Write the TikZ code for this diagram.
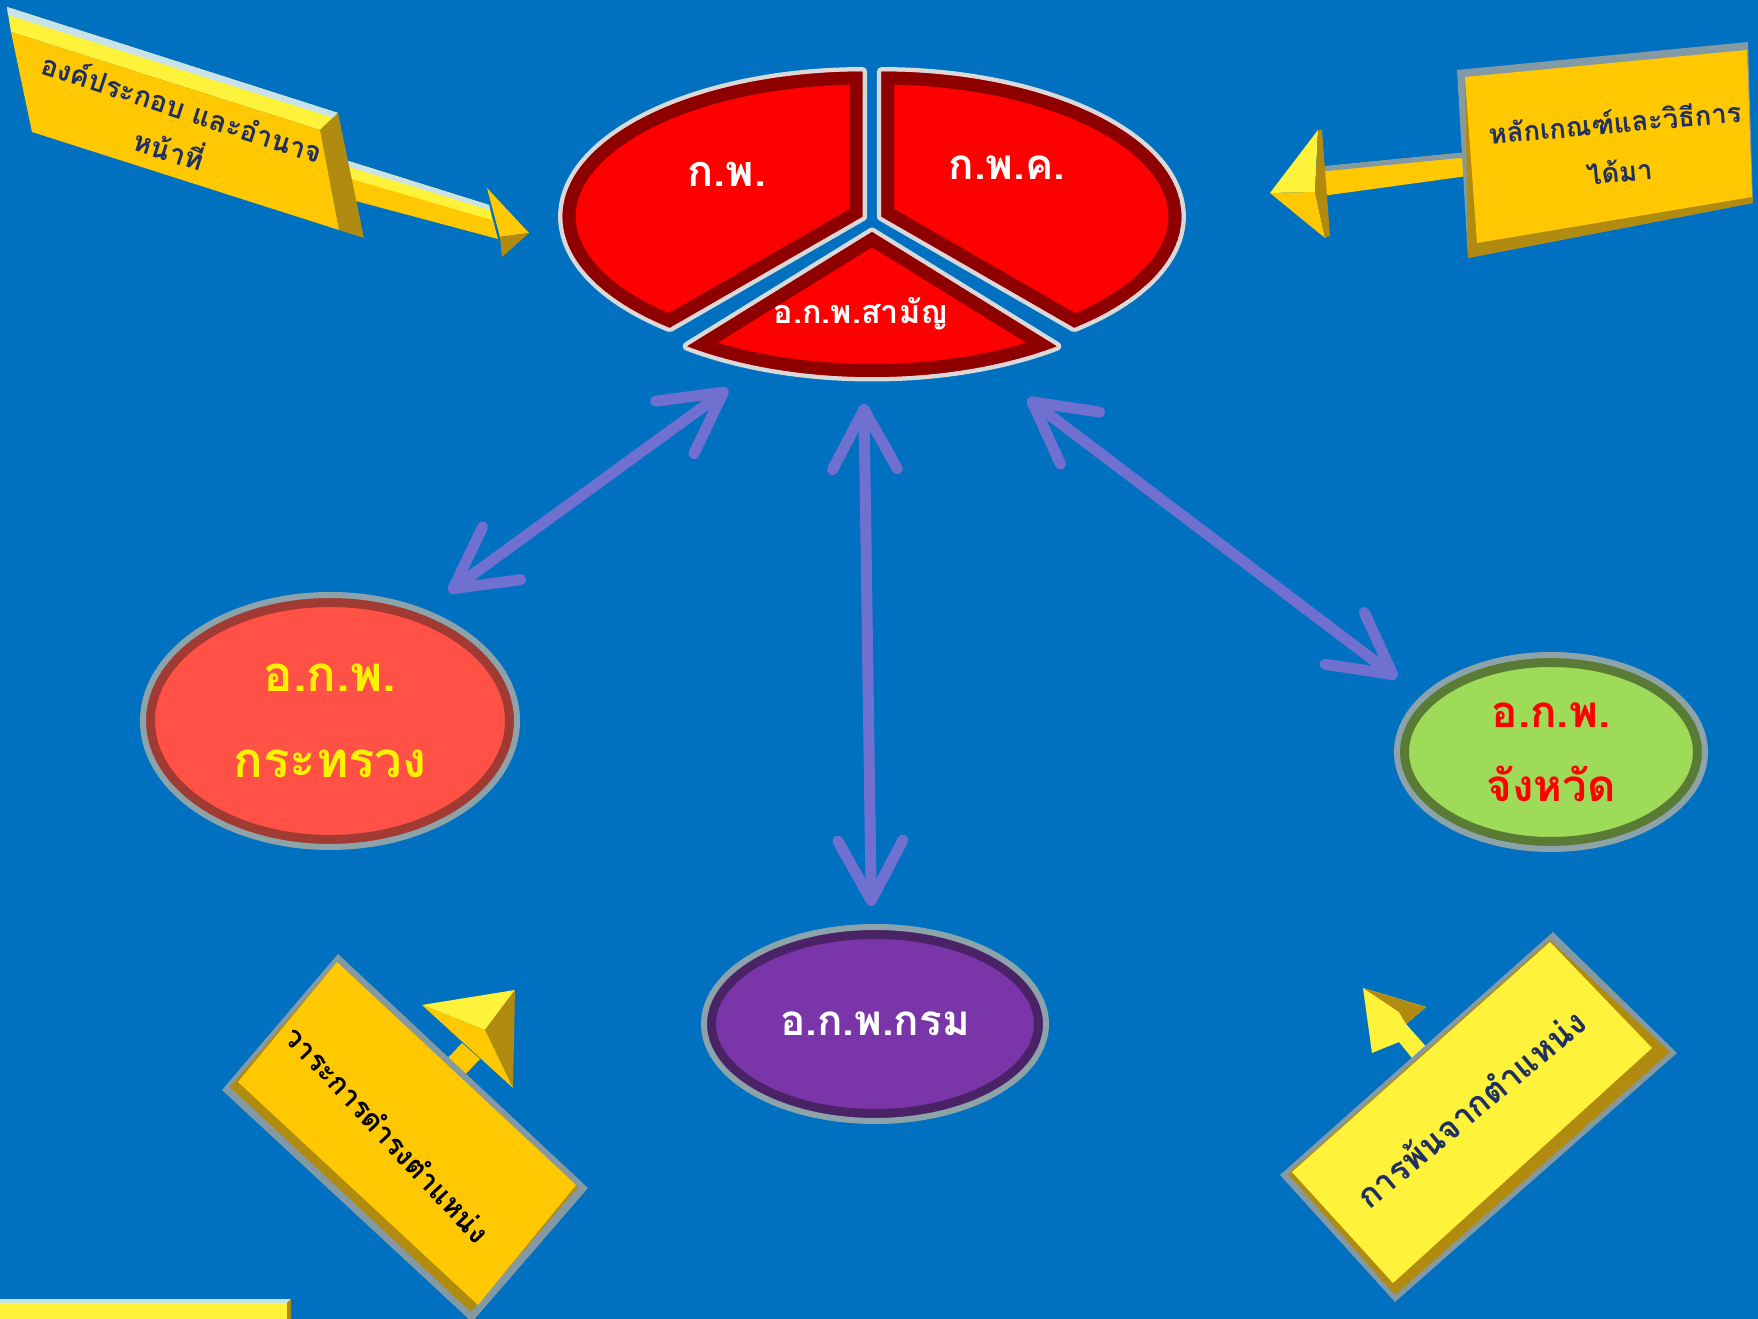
\documentclass[tikz,border=0pt]{standalone}
\usepackage{fontspec}
\newfontfamily\thai[Script=Thai]{Loma}
\usetikzlibrary{arrows.meta,shapes.geometric,calc}

\definecolor{bgblue}{HTML}{0070C0}
\definecolor{piered}{HTML}{FE0000}
\definecolor{pieband}{HTML}{8E0000}
\definecolor{piering}{HTML}{D9D9D9}
\definecolor{ringgray}{HTML}{8CA3AA}
\definecolor{minfill}{HTML}{FF5145}
\definecolor{minband}{HTML}{A03A33}
\definecolor{provfill}{HTML}{9EDB58}
\definecolor{provband}{HTML}{5A7B35}
\definecolor{deptfill}{HTML}{7A36A8}
\definecolor{deptband}{HTML}{4A2266}
\definecolor{arrowblue}{HTML}{7070D0}
\definecolor{gold}{HTML}{FFC800}
\definecolor{goldlight}{HTML}{FFF23A}
\definecolor{golddark}{HTML}{B08B10}
\definecolor{edgegray}{HTML}{8399A3}
\definecolor{bevelblue}{HTML}{C8E2EA}
\definecolor{navy}{HTML}{1F2F5F}

\begin{document}
\begin{tikzpicture}[x=0.1mm, y=-0.1mm,
    pill/.style={ellipse, draw=ringgray, line width=0.6mm, inner sep=0pt, outer sep=0pt, align=center,
      path picture={\draw[line width=2.4mm, draw=#1] let \p1=($(path picture bounding box.north east)-(path picture bounding box.center)$) in (path picture bounding box.center) ellipse [x radius=\x1, y radius=\y1];}},
    pietext/.style={text=white, inner sep=0pt},
    note/.style={align=center, inner sep=0pt, text=navy},
    biarrow/.style={draw=arrowblue, line width=1.1mm,
      {Straight Barb[length=6mm, width=6.5mm, round]}-{Straight Barb[length=6mm, width=6.5mm, round]}},
    ]
    \useasboundingbox (0,0) rectangle (1758,1319);
    \fill[bgblue] (0,0) rectangle (1758,1319);

    % Callout arrows
    % top left
    \fill[gold] (345,160) -- (489,205) -- (498,239) -- (352,200) -- cycle;
    \fill[goldlight] (345,160) -- (489,205) -- (492,220) -- (348,178) -- cycle;
    \fill[bevelblue] (345,160) -- (489,205) -- (490,210) -- (346,166) -- cycle;
    \fill[gold] (487,188) -- (529,233) -- (500,237) -- cycle;
    \fill[golddark] (500,237) -- (529,233) -- (502,257) -- cycle;
    \fill[goldlight] (7,7) -- (338,113) -- (320,130) -- (11,32) -- cycle;
    \fill[bevelblue] (7,7) -- (338,113) -- (334,118) -- (8,15) -- cycle;
    \fill[golddark] (320,130) -- (338,113) -- (364,238) -- (339,230) -- cycle;
    \fill[gold] (11,32) -- (320,130) -- (339,230) -- (32,132) -- cycle;
    \node[note, rotate=-18, font=\thai\bfseries\fontsize{8}{12.5}\selectfont] (noteorg) at (176,128) {องค์ประกอบ และอำนาจ\\หน้าที่};

    % top right
    \fill[gold] (1317,167) -- (1470,152) -- (1475,175) -- (1322,196) -- cycle;
    \fill[edgegray] (1317,167) -- (1470,152) -- (1470,157) -- (1317,172) -- cycle;
    \fill[goldlight] (1318,130) -- (1270,193) -- (1315,192) -- cycle;
    \fill[gold] (1270,193) -- (1325,238) -- (1315,192) -- cycle;
    \fill[golddark] (1318,130) -- (1315,192) -- (1325,238) -- (1330,236) -- (1322,130) -- cycle;
    \fill[edgegray] (1457,70) -- (1748,42) -- (1753,203) -- (1468,258) -- cycle;
    \fill[golddark] (1465,77) -- (1752,190) -- (1753,203) -- (1468,258) -- cycle;
    \fill[gold] (1465,77) -- (1747,50) -- (1752,197) -- (1477,243) -- cycle;
    \node[note, rotate=5, font=\thai\bfseries\fontsize{7.8}{14}\selectfont] (notecrit) at (1617,146) {หลักเกณฑ์และวิธีการ\\ได้มา};

    % bottom left
    \fill[gold] (444,1062) -- (462,1043) -- (480,1059) -- (462,1078) -- cycle;
    \fill[goldlight] (422,1005) -- (515,990) -- (485,1030) -- cycle;
    \fill[golddark] (515,990) -- (513,1088) -- (485,1030) -- cycle;
    \fill[gold] (422,1005) -- (485,1030) -- (513,1088) -- cycle;
    \fill[edgegray] (338,954) -- (588,1188) -- (472,1322) -- (222,1090) -- cycle;
    \fill[golddark] (337,962) -- (578,1187) -- (471,1312) -- (230,1087) -- cycle;
    \fill[gold] (337,962) -- (576,1185) -- (478,1305) -- (238,1082) -- cycle;
    \node[note, rotate=-47, text=black, font=\thai\bfseries\fontsize{8.2}{12}\selectfont] (noteterm) at (388,1134) {วาระการดำรงตำแหน่ง};

    % bottom right
    \fill[goldlight] (1416,1063) -- (1399,1042) -- (1372,1053) -- (1363,988) -- (1426,1007) -- (1406,1024) -- (1430,1051) -- cycle;
    \fill[golddark] (1363,988) -- (1426,1007) -- (1406,1024) -- (1399,1012) -- cycle;
    \fill[edgegray] (1553,932) -- (1677,1053) -- (1395,1302) -- (1280,1175) -- cycle;
    \fill[golddark] (1550,940) -- (1670,1052) -- (1395,1295) -- (1288,1174) -- cycle;
    \fill[goldlight] (1550,942) -- (1652,1048) -- (1393,1283) -- (1292,1172) -- cycle;
    \node[note, rotate=40, font=\thai\bfseries\fontsize{9.6}{12}\selectfont] (noteexit) at (1470,1108) {การพ้นจากตำแหน่ง};

    % corner strip
    \fill[bevelblue] (0,1299) rectangle (291,1303);
    \fill[goldlight] (0,1303) rectangle (287,1319);
    \fill[golddark] (287,1303) -- (291,1299) -- (291,1319) -- (287,1319) -- cycle;

    % Pie
    \coordinate (pc) at (872,220);
    \foreach \s/\e/\m/\d in {130/270/200/10, 270/410/340/10, 52/128/90/12} {
      \def\piece{(pc) ++(\m:\d) -- ++(\s:300 and 145) arc[start angle=\s, end angle=\e, x radius=300, y radius=145] -- cycle}
      \draw[piering, line width=0.9mm, line join=round] \piece;
      \begin{scope}
        \clip \piece;
        \fill[piered] \piece;
        \draw[pieband, line width=2.6mm] \piece;
      \end{scope}
    }
    \node[ellipse, minimum width=62mm, minimum height=32mm, inner sep=0pt, outer sep=0pt] (pie) at (pc) {};
    \node[pietext, font=\thai\bfseries\fontsize{12.3}{16}\selectfont] (kp) at (727,174) {ก.พ.};
    \node[pietext, font=\thai\bfseries\fontsize{12}{16}\selectfont] (kpk) at (1007,168) {ก.พ.ค.};
    \node[pietext, font=\thai\bfseries\fontsize{9.2}{13}\selectfont] (okp) at (861,314) {อ.ก.พ.สามัญ};

    % Place nodes
    \node[pill=minband, fill=minfill, text=yellow, minimum width=37.4mm, minimum height=25.2mm,
      font=\thai\bfseries\fontsize{14}{24.5}\selectfont] (ministry) at (330,721) {อ.ก.พ.\\กระทรวง};
    \node[pill=deptband, fill=deptfill, text=white, minimum width=34.2mm, minimum height=19.4mm,
      font=\thai\bfseries\fontsize{12}{16}\selectfont] (dept) at (875,1024) {อ.ก.พ.กรม};
    \node[pill=provband, fill=provfill, text=red, minimum width=30.8mm, minimum height=19.4mm,
      font=\thai\bfseries\fontsize{12.5}{21}\selectfont] (province) at (1551,752) {อ.ก.พ.\\จังหวัด};

    % Draw edges
    \draw[biarrow, shorten <=3.5mm, shorten >=3.3mm] (pie.232) -- (ministry.50);
    \draw[biarrow, shorten <=2.4mm, shorten >=2.1mm] (pie.267) -- (dept.92);
    \draw[biarrow, shorten <=5mm, shorten >=3.3mm] (pie.308) -- (province.157);
\end{tikzpicture}
\end{document}
